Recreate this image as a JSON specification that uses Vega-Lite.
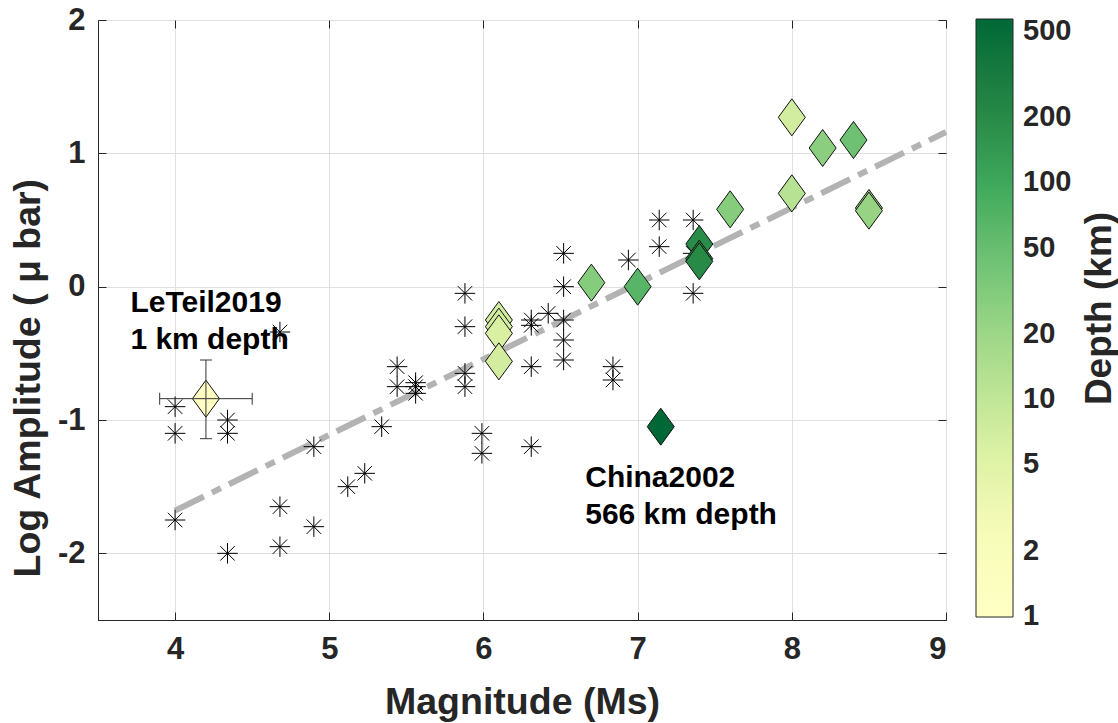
{
  "$schema": "https://vega.github.io/schema/vega-lite/v6.json",
  "width": 848,
  "height": 600,
  "autosize": {"type": "none"},
  "padding": {"left": 98, "top": 20, "right": 172, "bottom": 103},
  "background": "white",
  "config": {
    "view": {"stroke": "#262626", "strokeWidth": 1},
    "font": "Liberation Sans",
    "axis": {
      "domainColor": "#262626", "tickColor": "#262626", "tickSize": -8,
      "labelFont": "Liberation Sans", "labelFontSize": 31, "labelFontWeight": "bold", "labelColor": "#262626",
      "titleFont": "Liberation Sans", "titleFontSize": 37.5, "titleFontWeight": "bold", "titleColor": "#262626",
      "gridColor": "#dfdfdf"
    }
  },
  "datasets": {
    "fit": [{"M": 4.0, "A": -1.68}, {"M": 9.0, "A": 1.16}],
    "stars": [
      {"M": 4.0, "A": -0.9}, {"M": 4.0, "A": -1.1}, {"M": 4.0, "A": -1.75},
      {"M": 4.34, "A": -1.0}, {"M": 4.34, "A": -1.1}, {"M": 4.34, "A": -2.0},
      {"M": 4.68, "A": -0.34}, {"M": 4.68, "A": -1.65}, {"M": 4.68, "A": -1.95},
      {"M": 4.9, "A": -1.2}, {"M": 4.9, "A": -1.8},
      {"M": 5.12, "A": -1.5}, {"M": 5.23, "A": -1.4}, {"M": 5.34, "A": -1.05},
      {"M": 5.44, "A": -0.6}, {"M": 5.44, "A": -0.75},
      {"M": 5.56, "A": -0.72}, {"M": 5.56, "A": -0.75}, {"M": 5.56, "A": -0.8},
      {"M": 5.88, "A": -0.05}, {"M": 5.88, "A": -0.3}, {"M": 5.88, "A": -0.65}, {"M": 5.88, "A": -0.75},
      {"M": 5.99, "A": -1.1}, {"M": 5.99, "A": -1.25},
      {"M": 6.31, "A": -0.25}, {"M": 6.31, "A": -0.29}, {"M": 6.31, "A": -0.6}, {"M": 6.31, "A": -1.2},
      {"M": 6.42, "A": -0.2},
      {"M": 6.52, "A": 0.25}, {"M": 6.52, "A": 0.0}, {"M": 6.52, "A": -0.25}, {"M": 6.52, "A": -0.4}, {"M": 6.52, "A": -0.55},
      {"M": 6.84, "A": -0.6}, {"M": 6.84, "A": -0.7},
      {"M": 6.94, "A": 0.2},
      {"M": 7.14, "A": 0.5}, {"M": 7.14, "A": 0.3},
      {"M": 7.36, "A": 0.5}, {"M": 7.36, "A": 0.25}, {"M": 7.36, "A": -0.05}
    ],
    "quakes": [
      {"M": 4.2, "A": -0.84, "depth": 1},
      {"M": 6.1, "A": -0.25, "depth": 7},
      {"M": 6.1, "A": -0.3, "depth": 7},
      {"M": 6.1, "A": -0.35, "depth": 6},
      {"M": 6.1, "A": -0.56, "depth": 7},
      {"M": 6.7, "A": 0.03, "depth": 30},
      {"M": 7.0, "A": 0.0, "depth": 65},
      {"M": 7.15, "A": -1.05, "depth": 566},
      {"M": 7.4, "A": 0.32, "depth": 190},
      {"M": 7.4, "A": 0.21, "depth": 190},
      {"M": 7.4, "A": 0.19, "depth": 200},
      {"M": 7.6, "A": 0.58, "depth": 30},
      {"M": 8.0, "A": 1.27, "depth": 7},
      {"M": 8.0, "A": 0.7, "depth": 12},
      {"M": 8.2, "A": 1.04, "depth": 27},
      {"M": 8.4, "A": 1.1, "depth": 45},
      {"M": 8.5, "A": 0.59, "depth": 22},
      {"M": 8.5, "A": 0.57, "depth": 22}
    ],
    "leteil": [{"M": 4.2, "A": -0.84, "Mlo": 3.9, "Mhi": 4.5, "Alo": -1.14, "Ahi": -0.55}],
    "xcaps": [{"M": 3.9, "A": -0.84}, {"M": 4.5, "A": -0.84}],
    "ycaps": [{"M": 4.2, "A": -0.55}, {"M": 4.2, "A": -1.14}],
    "notes": [
      {"M": 3.71, "A": -0.19, "label": "LeTeil2019"},
      {"M": 3.71, "A": -0.47, "label": "1 km depth"},
      {"M": 6.66, "A": -1.5, "label": "China2002"},
      {"M": 6.66, "A": -1.78, "label": "566 km depth"}
    ]
  },
  "resolve": {"axis": {"x": "independent", "y": "independent"}},
  "layer": [
    {
      "data": {"name": "fit"},
      "mark": {"type": "line", "color": "#b3b3b3", "strokeWidth": 6, "strokeDash": [32, 9, 10, 9]},
      "encoding": {
        "x": {"field": "M", "type": "quantitative", "scale": {"domain": [3.5, 9], "nice": false, "zero": false},
          "axis": {"orient": "bottom", "values": [4, 5, 6, 7, 8, 9], "grid": true, "title": "Magnitude (Ms)", "labelPadding": 22, "titlePadding": 19}},
        "y": {"field": "A", "type": "quantitative", "scale": {"domain": [-2.5, 2], "nice": false, "zero": false},
          "axis": {"orient": "left", "values": [-2, -1, 0, 1, 2], "labelExpr": "'' + datum.value", "grid": true, "title": "Log Amplitude ( μ bar)", "labelPadding": 21, "titlePadding": 10, "titleAnchor": "start", "titleAlign": "left", "titleY": 557}}
      }
    },
    {
      "data": {"name": "stars"},
      "mark": {"type": "point", "shape": "M-1,0L1,0M0,-1L0,1M-0.707,-0.707L0.707,0.707M-0.707,0.707L0.707,-0.707", "filled": false, "stroke": "black", "strokeWidth": 1, "size": 420, "opacity": 1},
      "encoding": {
        "x": {"field": "M", "type": "quantitative", "scale": {"domain": [3.5, 9], "nice": false, "zero": false},
          "axis": {"orient": "top", "values": [4, 5, 6, 7, 8, 9], "labels": false, "domain": false, "grid": false, "title": null}},
        "y": {"field": "A", "type": "quantitative", "scale": {"domain": [-2.5, 2], "nice": false, "zero": false},
          "axis": {"orient": "right", "values": [-2, -1, 0, 1, 2], "labels": false, "domain": false, "grid": false,
            "title": "Depth (km)", "titleAngle": 270, "titleAlign": "center", "titleBaseline": "middle", "titleX": 153, "titleY": 288, "titleFontSize": 37}}
      }
    },
    {
      "data": {"name": "quakes"},
      "mark": {"type": "point", "shape": "M0,-1L0.73,0L0,1L-0.73,0Z", "filled": true, "stroke": "#111111", "strokeWidth": 1, "size": 1369, "opacity": 1},
      "encoding": {
        "x": {"field": "M", "type": "quantitative", "scale": {"domain": [3.5, 9], "nice": false, "zero": false}, "axis": null},
        "y": {"field": "A", "type": "quantitative", "scale": {"domain": [-2.5, 2], "nice": false, "zero": false}, "axis": null},
        "fill": {"field": "depth", "type": "quantitative",
          "scale": {"type": "log", "domain": [0.99, 566], "range": ["#ffffc4", "#f7fcb9", "#d9f0a3", "#addd8e", "#78c679", "#41ab5d", "#238443", "#006837"]},
          "legend": {"orient": "none", "legendX": 878, "legendY": -1, "direction": "vertical",
            "gradientLength": 598, "gradientThickness": 37, "gradientStrokeColor": "#262626", "gradientStrokeWidth": 1,
            "values": [1, 2, 5, 10, 20, 50, 100, 200, 500], "format": "d",
            "labelFont": "Liberation Sans", "labelFontSize": 29, "labelFontWeight": "bold", "labelColor": "#262626", "labelOffset": 10, "labelOverlap": false,
            "title": null}}
      }
    },
    {
      "data": {"name": "leteil"},
      "mark": {"type": "rule", "color": "#333333", "strokeWidth": 1},
      "encoding": {
        "x": {"field": "Mlo", "type": "quantitative", "scale": {"domain": [3.5, 9], "nice": false, "zero": false}, "axis": null},
        "x2": {"field": "Mhi"},
        "y": {"field": "A", "type": "quantitative", "scale": {"domain": [-2.5, 2], "nice": false, "zero": false}, "axis": null}
      }
    },
    {
      "data": {"name": "leteil"},
      "mark": {"type": "rule", "color": "#333333", "strokeWidth": 1},
      "encoding": {
        "x": {"field": "M", "type": "quantitative", "scale": {"domain": [3.5, 9], "nice": false, "zero": false}, "axis": null},
        "y": {"field": "Alo", "type": "quantitative", "scale": {"domain": [-2.5, 2], "nice": false, "zero": false}, "axis": null},
        "y2": {"field": "Ahi"}
      }
    },
    {
      "data": {"name": "xcaps"},
      "mark": {"type": "tick", "orient": "vertical", "color": "#333333", "size": 12, "thickness": 1, "opacity": 1},
      "encoding": {
        "x": {"field": "M", "type": "quantitative", "scale": {"domain": [3.5, 9], "nice": false, "zero": false}, "axis": null},
        "y": {"field": "A", "type": "quantitative", "scale": {"domain": [-2.5, 2], "nice": false, "zero": false}, "axis": null}
      }
    },
    {
      "data": {"name": "ycaps"},
      "mark": {"type": "tick", "orient": "horizontal", "color": "#333333", "size": 12, "thickness": 1, "opacity": 1},
      "encoding": {
        "x": {"field": "M", "type": "quantitative", "scale": {"domain": [3.5, 9], "nice": false, "zero": false}, "axis": null},
        "y": {"field": "A", "type": "quantitative", "scale": {"domain": [-2.5, 2], "nice": false, "zero": false}, "axis": null}
      }
    },
    {
      "data": {"name": "notes"},
      "mark": {"type": "text", "align": "left", "baseline": "alphabetic", "font": "Liberation Sans", "fontSize": 30, "fontWeight": "bold", "color": "black"},
      "encoding": {
        "x": {"field": "M", "type": "quantitative", "scale": {"domain": [3.5, 9], "nice": false, "zero": false}, "axis": null},
        "y": {"field": "A", "type": "quantitative", "scale": {"domain": [-2.5, 2], "nice": false, "zero": false}, "axis": null},
        "text": {"field": "label", "type": "nominal"}
      }
    }
  ]
}
